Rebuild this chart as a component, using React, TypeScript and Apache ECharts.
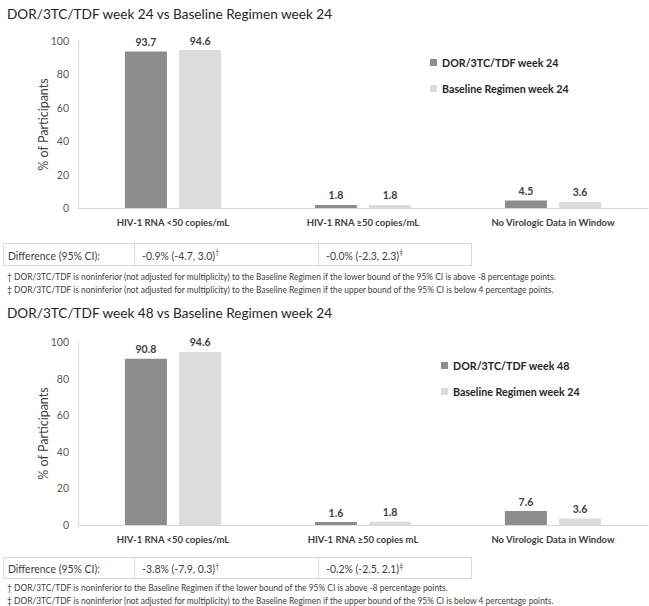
import React, { useEffect, useRef } from "react";
import * as echarts from "echarts";

const categoriesTop = ["HIV-1 RNA <50 copies/mL", "HIV-1 RNA ≥50 copies/mL", "No Virologic Data in Window"];
const categoriesBottom = ["HIV-1 RNA <50 copies/mL", "HIV-1 RNA ≥50 copies mL", "No Virologic Data in Window"];
const dorWeek24 = [93.7, 1.8, 4.5];
const baselineWeek24Top = [94.6, 1.8, 3.6];
const dorWeek48 = [90.8, 1.6, 7.6];
const baselineWeek24Bottom = [94.6, 1.8, 3.6];
const yTicks = { min: 0, max: 100, interval: 20 };

const titleTop = "DOR/3TC/TDF week 24 vs Baseline Regimen week 24";
const titleBottom = "DOR/3TC/TDF week 48 vs Baseline Regimen week 24";
const diffLabel = "Difference (95% CI):";
const diffTop = ["-0.9% (-4.7, 3.0)", "-0.0% (-2.3, 2.3)"];
const diffBottom = ["-3.8% (-7.9, 0.3)", "-0.2% (-2.5, 2.1)"];
const footTop = [
  "† DOR/3TC/TDF is noninferior (not adjusted for multiplicity) to the Baseline Regimen if the lower bound of the 95% CI is above -8 percentage points.",
  "‡ DOR/3TC/TDF is noninferior (not adjusted for multiplicity) to the Baseline Regimen if the upper bound of the 95% CI is below 4 percentage points.",
];
const footBottom = [
  "† DOR/3TC/TDF is noninferior to the Baseline Regimen if the lower bound of the 95% CI is above -8 percentage points.",
  "‡ DOR/3TC/TDF is noninferior (not adjusted for multiplicity) to the Baseline Regimen if the upper bound of the 95% CI is below 4 percentage points.",
];

const FONT = "Lato";
const DARK = "#8c8c8c";
const LIGHT = "#dcdcdc";
const TXT = "#404040";
const BORDER = "#d9d9d9";

function tableGraphics(top: number, h: number, vals: string[], marks: string[]) {
  const cols = [3, 134, 318, 471];
  const els: any[] = [];
  for (let i = 0; i < 3; i++) {
    els.push({
      type: "rect",
      shape: { x: cols[i] + 0.5, y: top + 0.5, width: cols[i + 1] - cols[i], height: h },
      style: { fill: "#fff", stroke: BORDER, lineWidth: 1 },
    });
  }
  els.push({
    type: "text",
    x: 8,
    y: top + h / 2 + 1,
    scaleX: 0.95,
    style: { text: diffLabel, fill: TXT, fontFamily: FONT, fontSize: 11, verticalAlign: "middle" },
  });
  for (let i = 0; i < 2; i++) {
    els.push({
      type: "text",
      x: cols[i + 1] + 8,
      y: top + h / 2 + 1,
      scaleX: 0.95,
      style: {
        text: `{a|${vals[i]}}{s|${marks[i]}}`,
        verticalAlign: "middle",
        rich: {
          a: { fill: TXT, fontFamily: FONT, fontSize: 11 },
          s: { fill: TXT, fontFamily: FONT, fontSize: 7, verticalAlign: "top", padding: [0, 0, 6, 0] },
        },
      },
    });
  }
  return els;
}

function footGraphics(y: number, lines: string[]) {
  return lines.map((t, i) => ({
    type: "text",
    x: 7,
    y: y + i * 13.5,
    scaleX: 0.885,
    style: { text: t, fill: TXT, fontFamily: FONT, fontSize: 9.5, verticalAlign: "middle" },
  }));
}

export default function App() {
  const ref = useRef<HTMLDivElement>(null);
  useEffect(() => {
    if (!ref.current) return;
    const chart = echarts.init(ref.current, undefined, { renderer: "svg" });
    const grids = [
      { left: 78, right: 1, top: 41, height: 167 },
      { left: 78, right: 1, top: 342, height: 183 },
    ];
    const xAxisBase = (idx: number, data: string[]) => ({
      type: "category",
      gridIndex: idx,
      data,
      axisLine: { lineStyle: { color: BORDER } },
      axisTick: { show: false },
      axisLabel: { color: TXT, fontFamily: FONT, fontSize: 9.5, fontWeight: "bold", margin: 9 },
    });
    const yAxisBase = (idx: number) => ({
      type: "value",
      gridIndex: idx,
      ...yTicks,
      name: "% of Participants",
      nameLocation: "middle",
      nameGap: 28,
      nameMoveOverlap: false,
      nameTextStyle: { color: TXT, fontFamily: FONT, fontSize: 12.5 },
      axisLine: { show: true, lineStyle: { color: BORDER } },
      axisTick: { show: false },
      splitLine: { show: false },
      axisLabel: { color: "#595959", fontFamily: FONT, fontSize: 10.5, margin: 9 },
    });
    const barLabel = { show: true, position: "top", distance: 4, color: TXT, fontFamily: FONT, fontSize: 10.5, fontWeight: "bold" };
    const mkBar = (name: string, data: number[], color: string, idx: number) => ({
      type: "bar",
      name,
      data,
      xAxisIndex: idx,
      yAxisIndex: idx,
      barWidth: 42,
      barGap: "29%",
      itemStyle: { color },
      label: barLabel,
    });
    const legendBase = (left: number, top: number, data: string[]) => ({
      left,
      top,
      orient: "vertical",
      data,
      icon: "rect",
      itemWidth: 7,
      itemHeight: 7,
      itemGap: 15,
      selectedMode: false,
      textStyle: { color: "#262626", fontFamily: FONT, fontSize: 10.7, fontWeight: "bold" },
    });
    chart.setOption({
      animation: false,
      grid: grids,
      xAxis: [xAxisBase(0, categoriesTop), xAxisBase(1, categoriesBottom)],
      yAxis: [yAxisBase(0), yAxisBase(1)],
      legend: [
        legendBase(425, 52, ["DOR/3TC/TDF week 24", "Baseline Regimen week 24"]),
        legendBase(436, 355, ["DOR/3TC/TDF week 48", "Baseline Regimen week 24"]),
      ],
      series: [
        mkBar("DOR/3TC/TDF week 24", dorWeek24, DARK, 0),
        mkBar("Baseline Regimen week 24", baselineWeek24Top, LIGHT, 0),
        mkBar("DOR/3TC/TDF week 48", dorWeek48, DARK, 1),
        mkBar("Baseline Regimen week 24", baselineWeek24Bottom, LIGHT, 1),
      ],
      graphic: [
        {
          type: "text",
          x: 7,
          y: 14,
          style: { text: titleTop, fill: "#262626", fontFamily: FONT, fontSize: 13.6, verticalAlign: "middle" },
        },
        {
          type: "text",
          x: 7,
          y: 313,
          style: { text: titleBottom, fill: "#262626", fontFamily: FONT, fontSize: 13.6, verticalAlign: "middle" },
        },
        ...tableGraphics(243, 22, diffTop, ["†", "‡"]),
        ...footGraphics(276, footTop),
        ...tableGraphics(557, 21, diffBottom, ["†", "‡"]),
        ...footGraphics(587, footBottom),
      ],
    });
    return () => chart.dispose();
  }, []);
  return <div ref={ref} style={{ position: "absolute", left: 0, top: 0, width: 649, height: 606, background: "#fff" }} />;
}
